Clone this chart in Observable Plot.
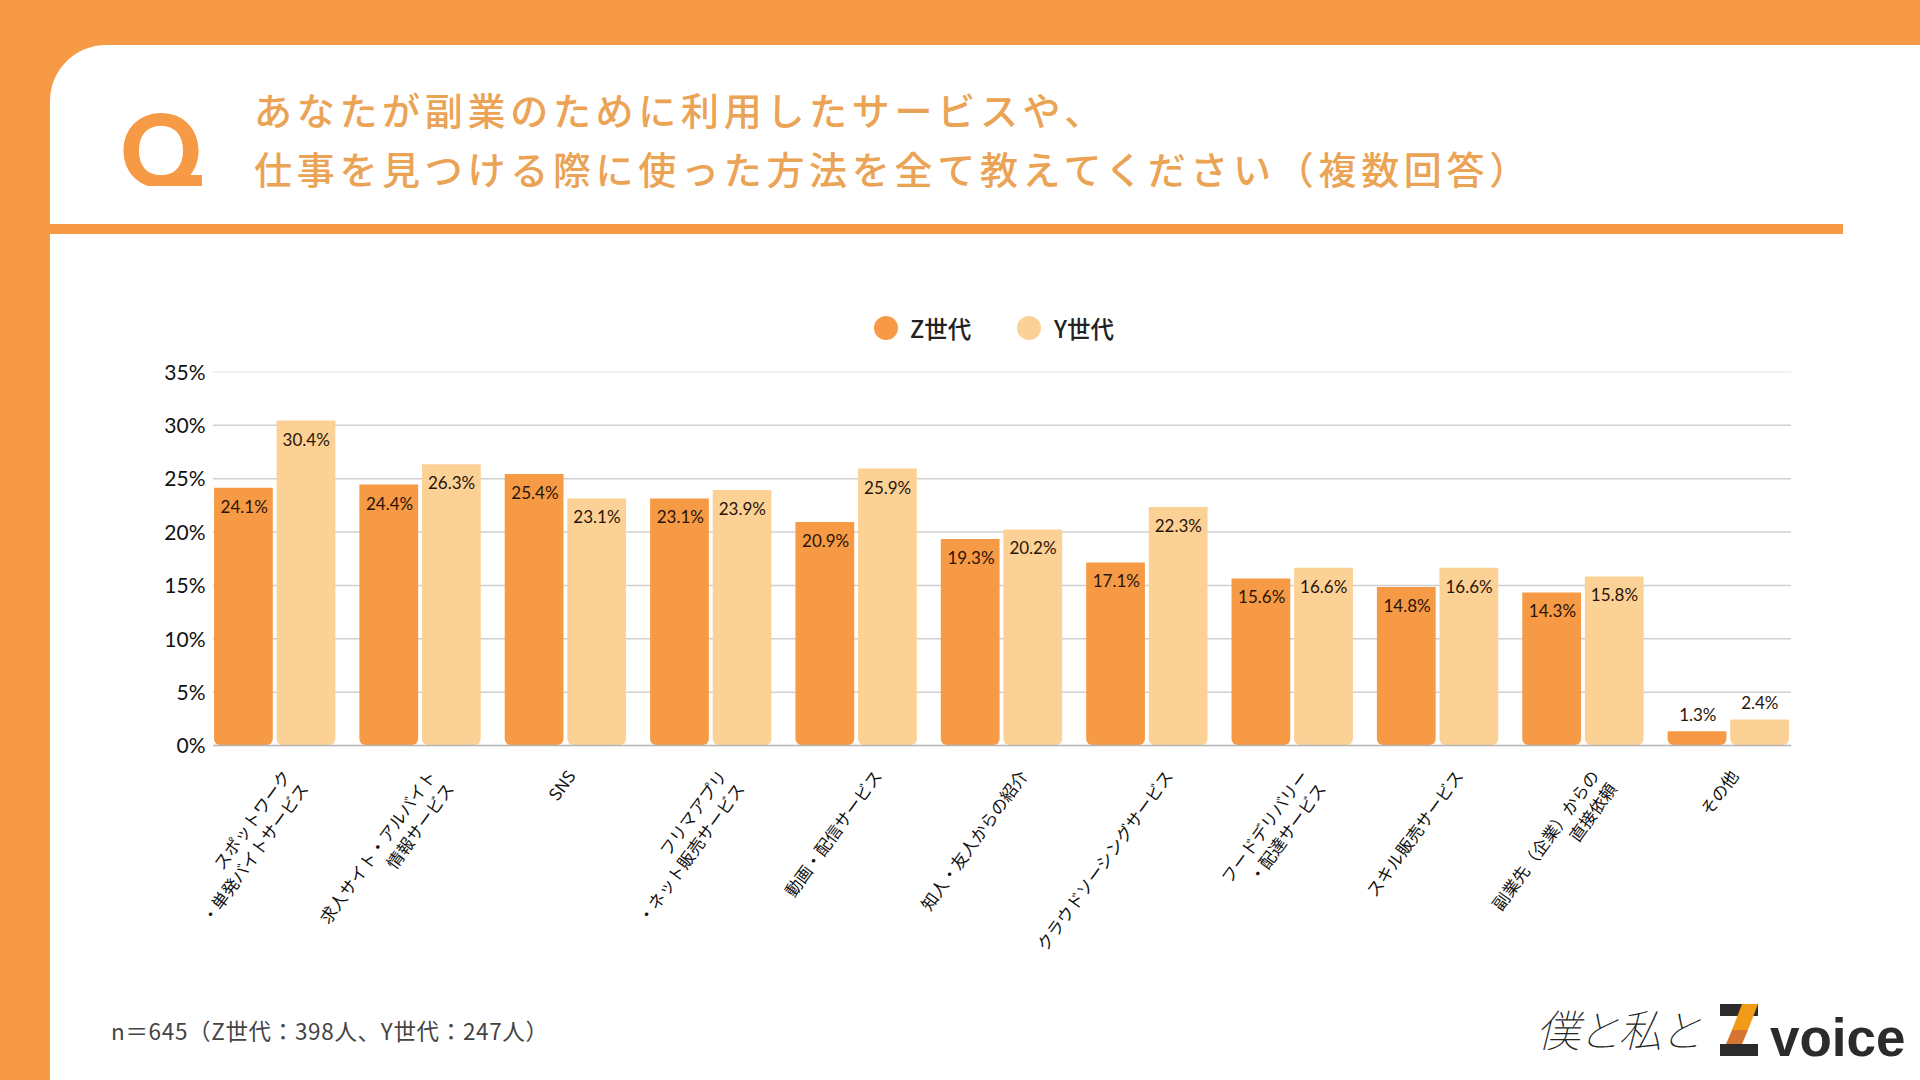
<!DOCTYPE html>
<html lang="ja"><head><meta charset="utf-8">
<script src="https://cdn.jsdelivr.net/npm/d3@7"></script>
<script src="https://cdn.jsdelivr.net/npm/@observablehq/plot@0.6"></script>
<style>
html,body{margin:0;padding:0;width:1920px;height:1080px;overflow:hidden;background:#F69A45}
#panel{position:absolute;left:50px;top:45px;width:1870px;height:1035px;background:#fff;border-top-left-radius:56px}
#rule{position:absolute;left:50px;top:224px;width:1793px;height:10px;background:#F69A45}
#q{position:absolute;left:120px;top:92px;font:900 101px/112px Lato,sans-serif;color:#F69A45}
#qcover{position:absolute;left:118px;top:186px;width:100px;height:30px;background:#fff}
#qtail{position:absolute;left:170px;top:175px;width:32px;height:11px;background:#F69A45}
#title{position:absolute;left:254px;top:79px;font:500 38px/59px "Noto Sans CJK JP",sans-serif;letter-spacing:4.7px;color:#EBA355;white-space:pre}
#chart{position:absolute;left:0;top:0}
#legend{position:absolute;left:0;top:0;font:500 23.5px/26px "Noto Sans CJK JP",sans-serif;color:#222}
#legend span{position:absolute;top:315px;white-space:nowrap}
#legend i{position:absolute;top:316px;width:24px;height:24px;border-radius:50%}
#note{position:absolute;left:111px;top:1015px;font:400 22.5px/30px "Noto Sans CJK JP",sans-serif;color:#444;white-space:pre;letter-spacing:.67px}
#hand{position:absolute;left:1536px;top:1000px;font:100 44px/56px "Noto Sans CJK JP",sans-serif;color:#222;letter-spacing:-3px;font-style:italic}
#zlogo{position:absolute;left:1720px;top:1004px}
#voice{position:absolute;left:1770px;top:1006px;font:700 53px/64px "Liberation Sans",sans-serif;color:#2b2b2b}
</style></head><body>
<div id="panel"></div>
<div id="q">Q</div><div id="qcover"></div><div id="qtail"></div>
<div id="rule"></div>
<div id="title">あなたが副業のために利用したサービスや、
仕事を見つける際に使った方法を全て教えてください（複数回答）</div>
<div id="chart"></div>
<div id="legend"></div>
<div id="note">n＝645（Z世代：398人、Y世代：247人）</div>
<div id="hand">僕と私と</div>
<svg id="zlogo" width="38" height="52" viewBox="0 0 38 52"><rect width="38" height="12" fill="#2b2b2b"/><rect y="40" width="38" height="12" fill="#2b2b2b"/><polygon points="22,0 38,0 28,26 12,26" fill="#F09A18"/><polygon points="12,26 28,26 22,40 6,40" fill="#D5752F"/></svg>
<div id="voice">voice</div>
<script>
const categories = [
  "スポットワーク\n・単発バイトサービス",
  "求人サイト・アルバイト\n情報サービス",
  "SNS",
  "フリマアプリ\n・ネット販売サービス",
  "動画・配信サービス",
  "知人・友人からの紹介",
  "クラウドソーシングサービス",
  "フードデリバリー\n・配達サービス",
  "スキル販売サービス",
  "副業先（企業）からの\n直接依頼",
  "その他"
];
const seriesNames = ["Z世代", "Y世代"];
const zValues = [24.1, 24.4, 25.4, 23.1, 20.9, 19.3, 17.1, 15.6, 14.8, 14.3, 1.3];
const yValues = [30.4, 26.3, 23.1, 23.9, 25.9, 20.2, 22.3, 16.6, 16.6, 15.8, 2.4];
const yTicks = [0, 5, 10, 15, 20, 25, 30, 35];

const zRows = categories.map((c, i) => ({category: c, value: zValues[i]}));
const yRows = categories.map((c, i) => ({category: c, value: yValues[i]}));
const ORANGE = "#F69A45", PALE = "#FCD196";
const FONT = "Lato, 'Noto Sans CJK JP', sans-serif";
const INSET = 62.6, OFFSET = 31;
const labelNudge = c => c.includes("\n") ? 4 : Math.min(14, -2 + 2.6 * (c.length - 3));
const pct = d => d.value.toFixed(1) + "%";
const labels = (rows, dx) => [
  Plot.text(rows.filter(d => d.value >= 5), {x: "category", y: "value", text: pct, dx, dy: 19, fontSize: 17, fill: "#2a1408"}),
  Plot.text(rows.filter(d => d.value < 5), {x: "category", y: "value", text: pct, dx, dy: -16, fontSize: 17, fill: "#2a1408"})
];

const chart = Plot.plot({
  width: 1920, height: 1080,
  marginLeft: 214, marginRight: 131, marginTop: 371.5, marginBottom: 335,
  style: {background: "transparent", fontFamily: FONT},
  x: {domain: categories, axis: null, paddingInner: 0.165, paddingOuter: 0, round: false},
  y: {domain: [0, 35], axis: null},
  marks: [
    Plot.ruleY(yTicks.filter(t => t > 0 && t < 35), {stroke: "#cfcfcf", strokeWidth: 1.5, insetLeft: -1, insetRight: -2}),
    Plot.ruleY([35], {stroke: "#eeeeee", strokeWidth: 1.5, insetLeft: -1, insetRight: -2}),
    Plot.axisY({ticks: yTicks, tickFormat: d => d + "%", tickSize: 0, tickPadding: 9, fontSize: 21, dy: 1, label: null, fill: "#111"}),
    Plot.barY(zRows, {x: "category", y: "value", fill: ORANGE, insetRight: INSET, ry2: 6}),
    Plot.barY(yRows, {x: "category", y: "value", fill: PALE, insetLeft: INSET, ry2: 6}),
    Plot.ruleY([0], {stroke: "#b5b5b5", strokeWidth: 1.5, insetLeft: -1, insetRight: -2}),
    ...labels(zRows, -OFFSET),
    ...labels(yRows, OFFSET),
    ...categories.map(c => Plot.text([c], {
      x: d => d, text: d => d, frameAnchor: "bottom", dy: 21.5, dx: labelNudge(c),
      rotate: -54, textAnchor: "end", lineAnchor: "top", lineHeight: 1.3,
      fontSize: 16.8, fill: "#111", fontFamily: "'Noto Sans CJK JP', sans-serif"
    }))
  ]
});
document.getElementById("chart").append(chart);

const legend = document.getElementById("legend");
const legendItems = [[seriesNames[0], 874, 910, ORANGE], [seriesNames[1], 1017, 1054, PALE]];
legendItems.forEach(([t, cx, tx, col]) => {
  const i = document.createElement("i"); i.style.left = cx + "px"; i.style.background = col; legend.append(i);
  const s = document.createElement("span"); s.style.left = tx + "px"; s.textContent = t; legend.append(s);
});
</script>
</body></html>
